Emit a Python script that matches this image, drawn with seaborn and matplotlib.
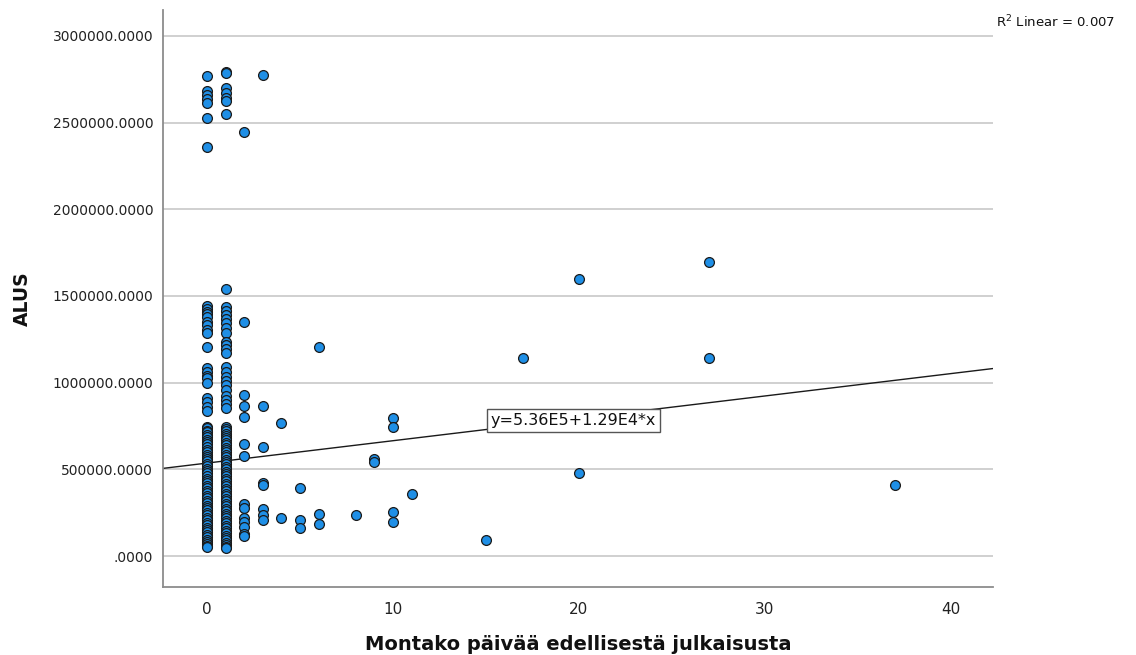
import matplotlib
matplotlib.use("Agg")
import matplotlib.pyplot as plt
from matplotlib.ticker import FuncFormatter, MultipleLocator
import numpy as np
import pandas as pd
import seaborn as sns

# Days since previous publication and the ALUS value, grouped by day count
days_0 = [2770000, 2680000, 2660000, 2635000, 2615000, 2525000, 2356000,
          1443000, 1425000, 1410000, 1395000, 1377000, 1352000, 1333000, 1305000,
          1285000, 1208000, 1087000, 1063000, 1040000, 1025000, 997000, 914000,
          890000, 862000, 837000,
          746000, 738000, 722000, 714000, 700000, 686000, 671000, 655000, 644000,
          630000, 611000, 601000, 585000, 573000, 560000, 546000, 532000, 517000,
          504000, 489000, 478000, 463000, 447000, 433000, 419000, 404000, 392000,
          376000, 361000, 349000, 333000, 319000, 304000, 291000, 277000, 263000,
          247000, 235000, 220000, 206000, 191000, 179000, 163000, 149000, 137000,
          121000, 109000, 94000, 83000, 68000, 57000, 50000]
days_1 = [2793000, 2785000, 2699000, 2673000, 2641000, 2624000, 2550000,
          1539000, 1439000, 1415000, 1391000, 1366000, 1343000, 1314000, 1285000,
          1237000, 1218000, 1193000, 1170000, 1092000, 1063000, 1035000, 1010000,
          987000, 958000, 925000, 900000, 875000, 852000,
          745000, 733000, 719000, 706000, 694000, 680000, 667000, 651000, 638000,
          624000, 613000, 597000, 583000, 569000, 556000, 541000, 528000, 514000,
          500000, 487000, 472000, 459000, 445000, 430000, 416000, 401000, 388000,
          374000, 358000, 345000, 331000, 316000, 302000, 288000, 274000, 259000,
          245000, 231000, 218000, 203000, 189000, 174000, 160000, 146000, 132000,
          118000, 104000, 90000, 76000, 62000, 51000, 44000]
days_2 = [2448000, 1348000, 927000, 868000, 800000, 645000, 575000, 298000,
          277000, 217000, 194000, 169000, 125000, 113000]
days_3 = [2775000, 864000, 627000, 419000, 410000, 272000, 237000, 210000]
days_4 = [765000, 220000]
days_5 = [392000, 205000, 160000]
days_6 = [1204000, 245000, 186000]
days_8 = [236000]
days_9 = [558000, 544000]
days_10 = [798000, 744000, 256000, 195000]
days_11 = [358000]
days_15 = [92000]
days_17 = [1142000]
days_20 = [1598000, 479000]
days_27 = [1697000, 1142000]
days_37 = [410000]

groups = {0: days_0, 1: days_1, 2: days_2, 3: days_3, 4: days_4, 5: days_5,
          6: days_6, 8: days_8, 9: days_9, 10: days_10, 11: days_11,
          15: days_15, 17: days_17, 20: days_20, 27: days_27, 37: days_37}

# Fit line as reported: y = 5.36E5 + 1.29E4 * x, R^2 = 0.007
intercept = 5.36e5
slope = 1.29e4
r_squared = 0.007

x_ticks = [0, 10, 20, 30, 40]
x_tick_labels = ["0", "10", "20", "30", "40"]
x_label = "Montako päivää edellisestä julkaisusta"
y_label = "ALUS"

df = pd.DataFrame(
    [(d, v) for d, vals in groups.items() for v in vals],
    columns=["paivat", "alus"],
)

sns.set_theme(style="white")
plt.rcParams["font.family"] = ["DejaVu Sans"]

fig = plt.figure(figsize=(11.36, 6.55), dpi=100)
ax = fig.add_axes([0.1435, 0.104, 0.7305, 0.881])

xlim = (-2.37, 42.26)
ylim = (-178000, 3150000)
ax.set_xlim(*xlim)
ax.set_ylim(*ylim)

ax.yaxis.set_major_locator(MultipleLocator(500000))
ax.grid(axis="y", color="#c8c8c8", linewidth=1.2)
ax.grid(axis="x", visible=False)
ax.set_axisbelow(True)

# Regression line across the full x-range
xs = np.array(xlim)
ax.plot(xs, intercept + slope * xs, color="#1a1a1a", linewidth=1.0, zorder=2)

sns.scatterplot(data=df, x="paivat", y="alus", ax=ax, s=50,
                color="#1f8fe6", edgecolor="#1a1a1a", linewidth=0.9,
                zorder=3, legend=False)

def fmt(v, pos):
    s = f"{v:.4f}"
    return s[1:] if s.startswith("0") else s

ax.yaxis.set_major_formatter(FuncFormatter(fmt))
ax.set_xticks(x_ticks, labels=x_tick_labels,
              fontfamily=["Liberation Sans Narrow", "DejaVu Sans"], fontsize=11)
ax.tick_params(axis="both", length=0, colors="#222222")
ax.tick_params(axis="y", pad=7, labelsize=10)
ax.tick_params(axis="x", pad=11)

for side in ("top", "right"):
    ax.spines[side].set_visible(False)
for side in ("left", "bottom"):
    ax.spines[side].set_color("#8c8c8c")
    ax.spines[side].set_linewidth(1.3)

ax.set_xlabel(x_label, fontsize=14, fontweight="bold", labelpad=13, color="#111111")
ax.set_ylabel(y_label, fontsize=13.5, fontweight="bold", labelpad=15, color="#111111")

# Equation label on the fit line
ax.text(19.7, 779000, f"y={intercept/1e5:.2f}E5+{slope/1e4:.2f}E4*x",
        ha="center", va="center", fontsize=11.5, color="#111111", zorder=4,
        bbox=dict(boxstyle="square,pad=0.25", facecolor="white",
                  edgecolor="#555555", linewidth=1.0))

fig.text(0.877, 0.966, rf"R$^2$ Linear = {r_squared:.3f}", fontsize=9.5,
         color="#111111", ha="left", va="center")

fig.savefig("out.png", dpi=100)
